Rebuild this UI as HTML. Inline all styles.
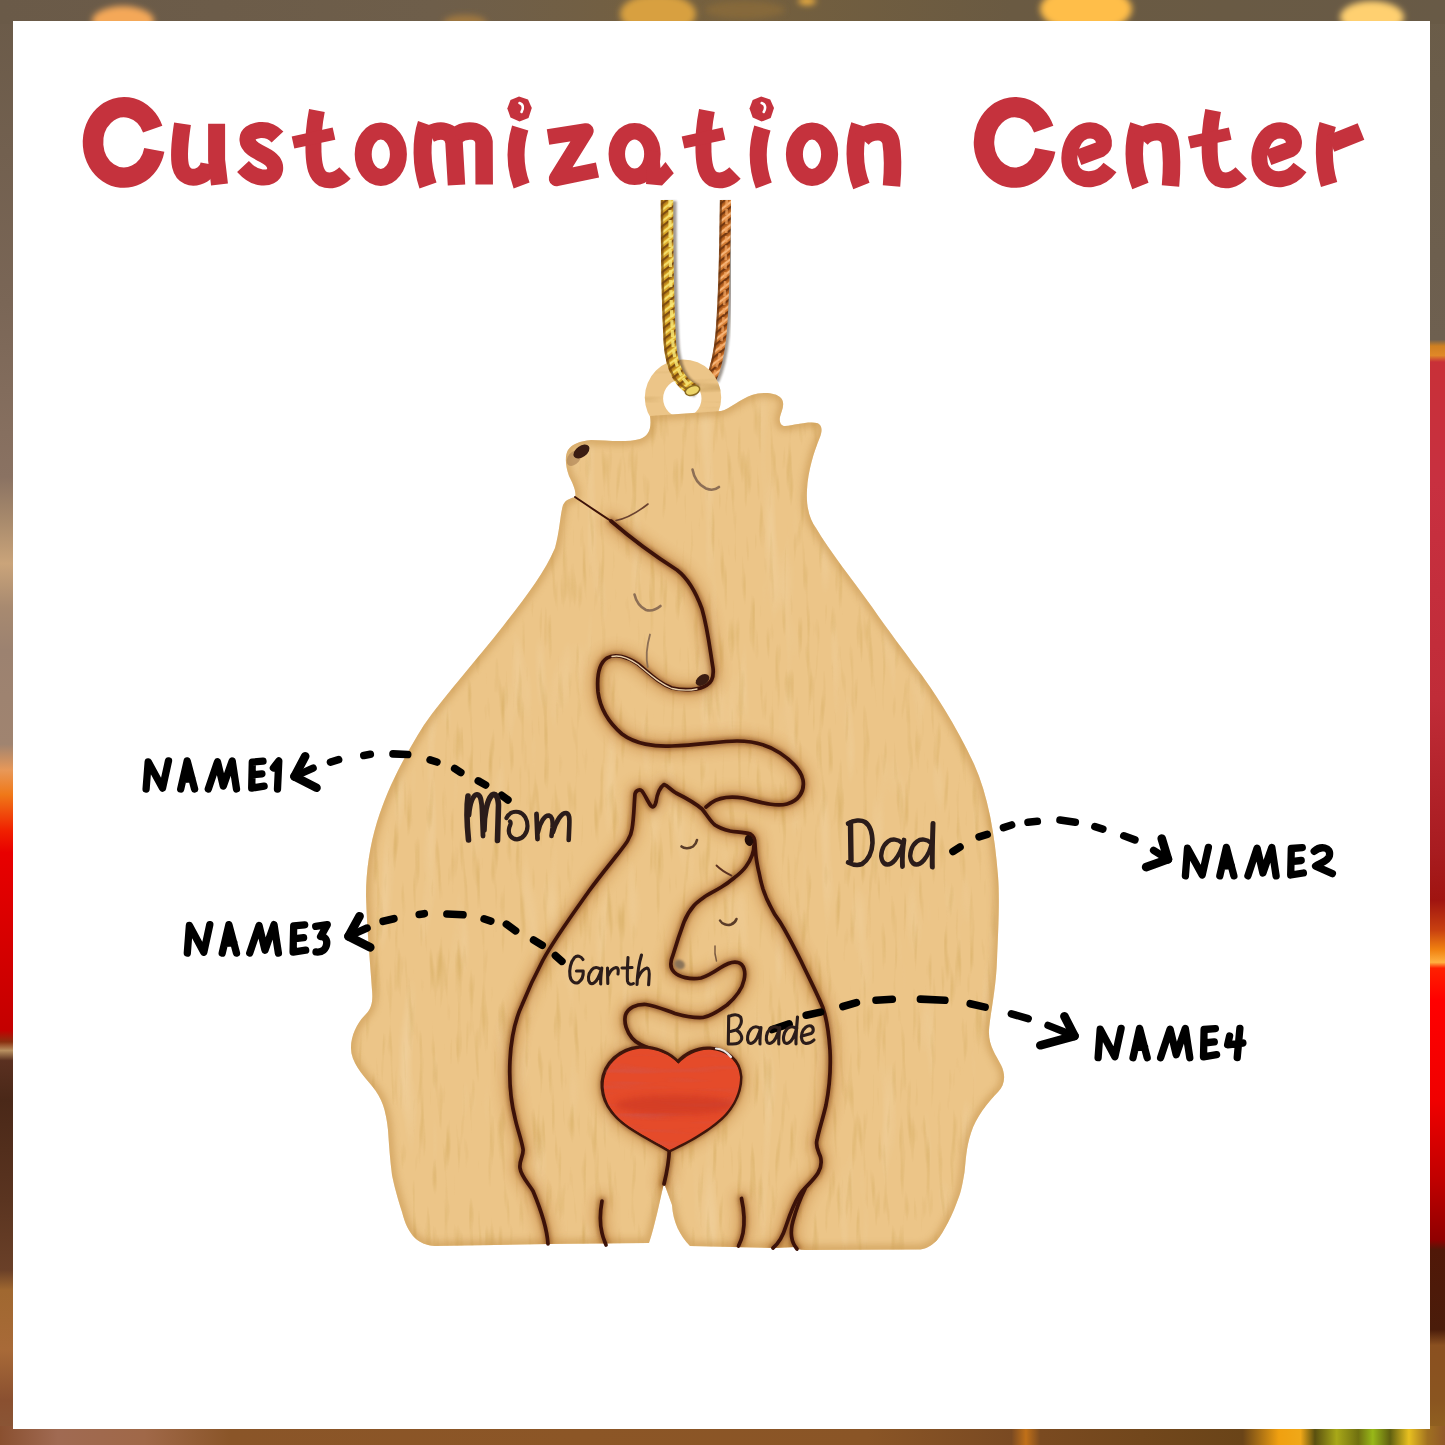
<!DOCTYPE html>
<html><head><meta charset="utf-8"><title>Customization Center</title>
<style>
html,body{margin:0;padding:0;background:#fff;font-family:"Liberation Sans",sans-serif;}
body{width:1445px;height:1445px;overflow:hidden;position:relative;}
svg{position:absolute;left:0;top:0;display:block;}
</style></head><body>
<svg width="1445" height="1445" viewBox="0 0 1445 1445">
<defs>
<linearGradient id="gLeft" x1="0" y1="0" x2="0" y2="1445" gradientUnits="userSpaceOnUse">
<stop offset="0" stop-color="#6a5a48"/><stop offset="0.21" stop-color="#7a6656"/><stop offset="0.33" stop-color="#8a7262"/>
<stop offset="0.36" stop-color="#a88a6c"/><stop offset="0.39" stop-color="#caa47a"/><stop offset="0.42" stop-color="#a88a70"/>
<stop offset="0.45" stop-color="#9c8270"/><stop offset="0.515" stop-color="#a08470"/><stop offset="0.533" stop-color="#e89858"/>
<stop offset="0.55" stop-color="#f07818"/><stop offset="0.575" stop-color="#f02000"/><stop offset="0.59" stop-color="#e80000"/>
<stop offset="0.713" stop-color="#c40000"/><stop offset="0.721" stop-color="#8a3010"/><stop offset="0.727" stop-color="#b89060"/>
<stop offset="0.734" stop-color="#5a3020"/><stop offset="0.761" stop-color="#4a2818"/><stop offset="0.83" stop-color="#5a3420"/>
<stop offset="0.879" stop-color="#6a4028"/><stop offset="0.893" stop-color="#a06830"/><stop offset="0.934" stop-color="#a86a38"/>
<stop offset="0.969" stop-color="#8a5030"/><stop offset="1" stop-color="#8a5838"/>
</linearGradient>
<linearGradient id="gRight" x1="0" y1="0" x2="0" y2="1445" gradientUnits="userSpaceOnUse">
<stop offset="0" stop-color="#6a5c48"/><stop offset="0.235" stop-color="#6e6050"/><stop offset="0.2395" stop-color="#d08020"/>
<stop offset="0.246" stop-color="#e08828"/><stop offset="0.2505" stop-color="#c83038"/><stop offset="0.333" stop-color="#c83040"/>
<stop offset="0.484" stop-color="#c02c38"/><stop offset="0.588" stop-color="#a81c20"/><stop offset="0.623" stop-color="#a01410"/>
<stop offset="0.6436" stop-color="#c84010"/><stop offset="0.657" stop-color="#f08010"/><stop offset="0.666" stop-color="#ffb040"/>
<stop offset="0.67" stop-color="#ff2000"/><stop offset="0.692" stop-color="#ff0000"/><stop offset="0.761" stop-color="#f00000"/>
<stop offset="0.8166" stop-color="#c00000"/><stop offset="0.858" stop-color="#900000"/><stop offset="0.865" stop-color="#501808"/>
<stop offset="0.92" stop-color="#4a1c0a"/><stop offset="0.931" stop-color="#8a5020"/><stop offset="0.969" stop-color="#8a5520"/>
<stop offset="0.989" stop-color="#906020"/><stop offset="1" stop-color="#a08010"/>
</linearGradient>
<linearGradient id="gTop" x1="0" y1="0" x2="1445" y2="0" gradientUnits="userSpaceOnUse">
<stop offset="0" stop-color="#6a5a48"/><stop offset="0.3" stop-color="#6e5e4a"/><stop offset="0.5" stop-color="#75603e"/><stop offset="0.7" stop-color="#6a5a42"/><stop offset="1" stop-color="#685a46"/>
</linearGradient>
<linearGradient id="gBot" x1="0" y1="0" x2="1445" y2="0" gradientUnits="userSpaceOnUse">
<stop offset="0" stop-color="#8a5030"/><stop offset="0.04" stop-color="#a06a52"/><stop offset="0.1" stop-color="#a06848"/><stop offset="0.16" stop-color="#8a5528"/>
<stop offset="0.4" stop-color="#8c5626"/><stop offset="0.6" stop-color="#8a5526"/><stop offset="0.7" stop-color="#7a4a22"/><stop offset="0.71" stop-color="#c07018"/><stop offset="0.72" stop-color="#7a4a20"/>
<stop offset="0.86" stop-color="#6a4418"/><stop offset="0.885" stop-color="#f0a010"/><stop offset="0.9" stop-color="#f0a818"/><stop offset="0.91" stop-color="#5a5010"/><stop offset="0.925" stop-color="#a8a818"/>
<stop offset="0.94" stop-color="#707010"/><stop offset="0.95" stop-color="#98b818"/><stop offset="0.962" stop-color="#606010"/><stop offset="0.975" stop-color="#e8c020"/><stop offset="0.988" stop-color="#a07020"/><stop offset="1" stop-color="#905828"/>
</linearGradient>
<filter id="blur6" x="-50%" y="-50%" width="200%" height="200%"><feGaussianBlur stdDeviation="6"/></filter>
<filter id="blur3" x="-50%" y="-50%" width="200%" height="200%"><feGaussianBlur stdDeviation="3"/></filter>
<filter id="blur2" x="-20%" y="-20%" width="140%" height="140%"><feGaussianBlur stdDeviation="2.2"/></filter>
<filter id="blur1" x="-20%" y="-20%" width="140%" height="140%"><feGaussianBlur stdDeviation="1"/></filter>
<filter id="grainV" x="0" y="0" width="100%" height="100%">
<feTurbulence type="fractalNoise" baseFrequency="0.16 0.018" numOctaves="2" seed="7" result="n"/>
<feColorMatrix in="n" type="matrix" values="0 0 0 0 0.60  0 0 0 0 0.36  0 0 0 0 0.08  -3.2 0 0 0 1.38" result="c"/>
<feComposite in="c" in2="SourceGraphic" operator="in"/>
</filter>
<filter id="grainL" x="0" y="0" width="100%" height="100%">
<feTurbulence type="fractalNoise" baseFrequency="0.05 0.008" numOctaves="2" seed="23" result="n"/>
<feColorMatrix in="n" type="matrix" values="0 0 0 0 1  0 0 0 0 0.92  0 0 0 0 0.75  2.6 0 0 0 -1.5" result="c"/>
<feComposite in="c" in2="SourceGraphic" operator="in"/>
</filter>
<filter id="grainH" x="0" y="0" width="100%" height="100%">
<feTurbulence type="fractalNoise" baseFrequency="0.012 0.12" numOctaves="2" seed="3" result="n"/>
<feColorMatrix in="n" type="matrix" values="0 0 0 0 0.55  0 0 0 0 0.33  0 0 0 0 0.10  -2.6 0 0 0 1.2" result="c"/>
<feComposite in="c" in2="SourceGraphic" operator="in"/>
</filter>
<filter id="grainHeart" x="0" y="0" width="100%" height="100%">
<feTurbulence type="fractalNoise" baseFrequency="0.01 0.12" numOctaves="2" seed="11" result="n"/>
<feColorMatrix in="n" type="matrix" values="0 0 0 0 0.6  0 0 0 0 0.1  0 0 0 0 0.1  -3 0 0 0 1.45" result="c"/>
<feComposite in="c" in2="SourceGraphic" operator="in"/>
</filter>
<pattern id="rope1" patternUnits="userSpaceOnUse" width="9" height="9" patternTransform="rotate(-38)">
<rect width="9" height="9" fill="#d6a224"/><rect y="0" width="9" height="2.4" fill="#7e4c10"/><rect y="2.4" width="9" height="1.2" fill="#b07818"/><rect y="5" width="9" height="2.2" fill="#f4dc68"/>
</pattern>
<pattern id="rope2" patternUnits="userSpaceOnUse" width="9" height="9" patternTransform="rotate(-38)">
<rect width="9" height="9" fill="#cf762c"/><rect y="0" width="9" height="2.4" fill="#743810"/><rect y="2.4" width="9" height="1.2" fill="#a85418"/><rect y="5" width="9" height="2.2" fill="#f6b478"/>
</pattern>
</defs>
<g id="bg">
<rect x="0" y="0" width="1445" height="1445" fill="#6a5a48"/>
<rect x="0" y="0" width="722" height="1445" fill="url(#gLeft)"/>
<rect x="722" y="0" width="723" height="1445" fill="url(#gRight)"/>
<rect x="0" y="0" width="1445" height="24" fill="url(#gTop)"/>
<g filter="url(#blur3)">
<ellipse cx="123" cy="21" rx="31" ry="15" fill="#f4a858"/>
<ellipse cx="465" cy="23" rx="22" ry="8" fill="#a07840"/>
<ellipse cx="658" cy="14" rx="38" ry="20" fill="#d8a040"/>
<ellipse cx="745" cy="10" rx="40" ry="9" fill="#86693a"/>
<ellipse cx="807" cy="1" rx="9" ry="4" fill="#f0b040"/>
<ellipse cx="1086" cy="9" rx="46" ry="23" fill="#ffbe48"/>
<ellipse cx="1372" cy="17" rx="32" ry="16" fill="#ffd070"/>
</g>
<rect x="0" y="1426" width="1445" height="19" fill="url(#gBot)"/>
</g>
<rect x="13" y="21" width="1417" height="1408" fill="#ffffff"/>
<g id="title" stroke="#c5323d" fill="none" stroke-linecap="butt">
<path d="M152.7,129.1 A31,35.2 0 1 0 154.3,149.8" stroke-width="20.5" fill="none"/>
<path d="M182.5,123.7 C180,140 178.5,157 180.5,166 C183,177 192,178.5 198,176.5 C204,174.5 208,170 209,164" stroke-width="17" fill="none"/><path d="M216.6,123.7 L216.6,160 L219.5,184.5" stroke-width="17" fill="none"/>
<path d="M277.5,137 C272,131 266,129.5 260,130 C252,131 247,134 247.5,140 C248,147 256,151 264,155 C272,159 276,164 275,170 C274,176 268,178 262,177.5 C254,177 248,172 243,166.5" stroke-width="16" fill="none"/>
<path d="M316.9,110.5 C314,125 313,140 313.5,152 C314,166 316,175 323,179 C330,182 338,180 345,173" stroke-width="16" fill="none"/><path d="M293,142.5 L334,133.6" stroke-width="12.5" fill="none"/>
<ellipse cx="380.8" cy="154.3" rx="17.6" ry="23.2" stroke-width="17" fill="none"/>
<path d="M426.5,124 C421,140 421,165 428,185.5" stroke-width="18" fill="none"/><path d="M430,134 C440,129 452,130 454,142 L456.5,185" stroke-width="17.5" fill="none"/><path d="M456,136 C464,129 482,128 484,142 L484.2,184.5" stroke-width="17.5" fill="none"/>
<path d="M520.2,128 C515,145 514,165 521.6,185.5" stroke-width="17" fill="none"/><polygon points="519,96.5 528,99.5 531.8,108 528.5,118 519.5,121.5 510.5,117.5 507.3,108.5 510.5,100" stroke="none" fill="#c5323d"/><path d="M519.5,103 C523,104 524,108 521.5,112" stroke="#fff" stroke-width="2.6" fill="none" stroke-linecap="round"/>
<path d="M548,137 L586,131 L556.5,178.5 L597.5,170" stroke-width="15.5" fill="none" stroke-linejoin="round"/>
<ellipse cx="634.6" cy="154" rx="17.8" ry="22.8" stroke-width="16.5" fill="none"/><polygon points="648,150 659,152 660.5,168 665.5,162 673.8,173.2 662,185.5 646,184" stroke="none" fill="#c5323d"/>
<g transform="translate(390,0)"><path d="M316.9,110.5 C314,125 313,140 313.5,152 C314,166 316,175 323,179 C330,182 338,180 345,173" stroke-width="16" fill="none"/><path d="M293,142.5 L334,133.6" stroke-width="12.5" fill="none"/></g>
<g transform="translate(242.2,0)"><path d="M520.2,128 C515,145 514,165 521.6,185.5" stroke-width="17" fill="none"/><polygon points="519,96.5 528,99.5 531.8,108 528.5,118 519.5,121.5 510.5,117.5 507.3,108.5 510.5,100" stroke="none" fill="#c5323d"/><path d="M519.5,103 C523,104 524,108 521.5,112" stroke="#fff" stroke-width="2.6" fill="none" stroke-linecap="round"/></g>
<g transform="translate(431.2,0)"><ellipse cx="380.8" cy="154.3" rx="17.6" ry="23.2" stroke-width="17" fill="none"/></g>
<path d="M859.6,125 C854,142 853,165 861.4,186" stroke-width="17.5" fill="none"/><path d="M862,139 C870,129.5 888,128 891,142 C893,155 893,170 891.5,186" stroke-width="17.5" fill="none"/>
<g transform="translate(891,0)"><path d="M152.7,129.1 A31,35.2 0 1 0 154.3,149.8" stroke-width="20.5" fill="none"/></g>
<path d="M1078.5,157.5 L1100,149.5 C1106,146 1105,137 1098,132.5 C1090,128 1080,131 1075,139 C1069,148 1068,160 1071,168 C1075,177 1084,180 1092,179 C1100,178 1106,173 1110,167.5" stroke-width="16" fill="none" stroke-linejoin="round"/>
<g transform="translate(279,0)"><path d="M859.6,125 C854,142 853,165 861.4,186" stroke-width="17.5" fill="none"/><path d="M862,139 C870,129.5 888,128 891,142 C893,155 893,170 891.5,186" stroke-width="17.5" fill="none"/></g>
<g transform="translate(896.2,0)"><path d="M316.9,110.5 C314,125 313,140 313.5,152 C314,166 316,175 323,179 C330,182 338,180 345,173" stroke-width="16" fill="none"/><path d="M293,142.5 L334,133.6" stroke-width="12.5" fill="none"/></g>
<g transform="translate(190,0)"><path d="M1078.5,157.5 L1100,149.5 C1106,146 1105,137 1098,132.5 C1090,128 1080,131 1075,139 C1069,148 1068,160 1071,168 C1075,177 1084,180 1092,179 C1100,178 1106,173 1110,167.5" stroke-width="16" fill="none" stroke-linejoin="round"/></g>
<path d="M1327.7,124.5 C1323,140 1323,165 1329.1,184.5" stroke-width="17" fill="none"/><path d="M1331,143.5 L1361,131.5" stroke-width="18" fill="none"/>
</g>
<g id="cord2" fill="none" stroke-linecap="butt">
<path d="M725.5,200 C725,250 724,300 721,335 C719,355 716,368 711,379" stroke="#2a1a08" stroke-width="12" opacity="0.45" transform="translate(2.5,1)" filter="url(#blur1)"/>
<path d="M725.5,200 C725,250 724,300 721,335 C719,355 716,368 711,379" stroke="url(#rope2)" stroke-width="11"/>
<path d="M725.5,200 C725,250 724,300 721,335 C719,355 716,368 711,379" stroke="#6a3410" stroke-width="2.2" opacity="0.7" transform="translate(-4.6,0)"/>
<path d="M725.5,200 C725,250 724,300 721,335 C719,355 716,368 711,379" stroke="#f2a460" stroke-width="2.6" opacity="0.75" stroke-dasharray="6 3" transform="translate(1.2,0)"/>
</g>
<g id="ring">
<path fill-rule="evenodd" fill="#ecc588" d="M644.8,397.6 a38.2,38.2 0 1 0 76.4,0 a38.2,38.2 0 1 0 -76.4,0 Z M663.1,398.5 a19.2,19.2 0 1 0 38.4,0 a19.2,19.2 0 1 0 -38.4,0 Z"/>
<path fill-rule="evenodd" fill="#ecc588" filter="url(#grainH)" opacity="0.7" d="M644.8,397.6 a38.2,38.2 0 1 0 76.4,0 a38.2,38.2 0 1 0 -76.4,0 Z M663.1,398.5 a19.2,19.2 0 1 0 38.4,0 a19.2,19.2 0 1 0 -38.4,0 Z"/>
</g>
<g id="cord1" fill="none" stroke-linecap="butt">
<path d="M667,200 C667,260 668,310 670,345 C672,368 680,384 694,390" stroke="#2a1a08" stroke-width="13" opacity="0.45" transform="translate(3,1)" filter="url(#blur1)"/>
<path d="M667,200 C667,260 668,310 670,345 C672,368 680,384 694,390" stroke="url(#rope1)" stroke-width="12.5"/>
<path d="M667,200 C667,260 668,310 670,345 C672,368 680,384 694,390" stroke="#7a4a10" stroke-width="2.4" opacity="0.7" transform="translate(-5,0)"/>
<path d="M667,200 C667,260 668,310 670,345 C672,368 680,384 694,390" stroke="#f8e878" stroke-width="3.2" opacity="0.85" stroke-dasharray="7 3" transform="translate(3,0)"/>
<ellipse cx="692.5" cy="390.5" rx="7.5" ry="4.6" fill="#ecd468" stroke="#8a6a20" stroke-width="1.5" transform="rotate(-20 692.5 390.5)"/>
</g>
<clipPath id="silclip"><path d="M650,416 L721,411
C730,409 740,399 752,395 C762,392 775,392 781,398 C786,404 781,412 780,417 C779,422 781,426 785,426
C795,425 808,421 817,423 C823,425 822,432 820,437 C814,452 808,470 807,490 C806,508 810,520 816,528
C830,552 850,576 872,607 C890,633 905,652 914,665 C935,692 955,724 974,764 C988,795 995,835 998,876
C1000,900 998,935 997,960 C996,990 990,1015 989,1030 C988,1045 996,1055 1001,1065 C1006,1075 1005,1085 998,1092
C988,1102 976,1117 971,1133 C966,1148 966,1160 964.5,1172 C962,1188 960,1195 957,1202 C953,1213 949,1221 945,1228 C941,1235 938,1240 934,1243 C929,1247 925,1249.5 918,1249.5
L805,1250 C800,1250 797,1249 795,1247 L775,1248 L690,1246
C680,1236 673,1222 672,1205 L664,1183 C660,1200 655,1225 649,1243
L548,1244 L435,1246
C427,1245.5 420,1243 415,1238 C409,1232 405,1224 402,1212 C397,1196 394,1185 392,1175 C390,1160 389,1145 388,1130 C386,1110 382,1098 372,1086
C362,1074 351,1062 351,1048 C351,1034 358,1022 366,1014 C372,1008 373,1000 372,990
C370,960 367,930 366,896 C366,870 370,845 377,822 C387,790 402,760 424,725
C445,695 475,662 504,625 C525,598 545,572 555,548 C560,530 560,515 563,505
C566,499 572,498 575,497 C577,492 572,482 569,476 C565,465 565,455 568,450
C572,444 580,441 591,440 C605,440 625,443 640,439 C648,436 652,430 650,416 Z"/></clipPath>
<g id="bearbody">
<path fill="#ecc588" d="M650,416 L721,411
C730,409 740,399 752,395 C762,392 775,392 781,398 C786,404 781,412 780,417 C779,422 781,426 785,426
C795,425 808,421 817,423 C823,425 822,432 820,437 C814,452 808,470 807,490 C806,508 810,520 816,528
C830,552 850,576 872,607 C890,633 905,652 914,665 C935,692 955,724 974,764 C988,795 995,835 998,876
C1000,900 998,935 997,960 C996,990 990,1015 989,1030 C988,1045 996,1055 1001,1065 C1006,1075 1005,1085 998,1092
C988,1102 976,1117 971,1133 C966,1148 966,1160 964.5,1172 C962,1188 960,1195 957,1202 C953,1213 949,1221 945,1228 C941,1235 938,1240 934,1243 C929,1247 925,1249.5 918,1249.5
L805,1250 C800,1250 797,1249 795,1247 L775,1248 L690,1246
C680,1236 673,1222 672,1205 L664,1183 C660,1200 655,1225 649,1243
L548,1244 L435,1246
C427,1245.5 420,1243 415,1238 C409,1232 405,1224 402,1212 C397,1196 394,1185 392,1175 C390,1160 389,1145 388,1130 C386,1110 382,1098 372,1086
C362,1074 351,1062 351,1048 C351,1034 358,1022 366,1014 C372,1008 373,1000 372,990
C370,960 367,930 366,896 C366,870 370,845 377,822 C387,790 402,760 424,725
C445,695 475,662 504,625 C525,598 545,572 555,548 C560,530 560,515 563,505
C566,499 572,498 575,497 C577,492 572,482 569,476 C565,465 565,455 568,450
C572,444 580,441 591,440 C605,440 625,443 640,439 C648,436 652,430 650,416 Z"/>
<g clip-path="url(#silclip)">
<rect x="340" y="380" width="680" height="880" fill="#000" filter="url(#grainV)" opacity="0.42"/>
<rect x="340" y="380" width="680" height="880" fill="#000" filter="url(#grainL)" opacity="0.22"/>
<path d="M650,416 L721,411
C730,409 740,399 752,395 C762,392 775,392 781,398 C786,404 781,412 780,417 C779,422 781,426 785,426
C795,425 808,421 817,423 C823,425 822,432 820,437 C814,452 808,470 807,490 C806,508 810,520 816,528
C830,552 850,576 872,607 C890,633 905,652 914,665 C935,692 955,724 974,764 C988,795 995,835 998,876
C1000,900 998,935 997,960 C996,990 990,1015 989,1030 C988,1045 996,1055 1001,1065 C1006,1075 1005,1085 998,1092
C988,1102 976,1117 971,1133 C966,1148 966,1160 964.5,1172 C962,1188 960,1195 957,1202 C953,1213 949,1221 945,1228 C941,1235 938,1240 934,1243 C929,1247 925,1249.5 918,1249.5
L805,1250 C800,1250 797,1249 795,1247 L775,1248 L690,1246
C680,1236 673,1222 672,1205 L664,1183 C660,1200 655,1225 649,1243
L548,1244 L435,1246
C427,1245.5 420,1243 415,1238 C409,1232 405,1224 402,1212 C397,1196 394,1185 392,1175 C390,1160 389,1145 388,1130 C386,1110 382,1098 372,1086
C362,1074 351,1062 351,1048 C351,1034 358,1022 366,1014 C372,1008 373,1000 372,990
C370,960 367,930 366,896 C366,870 370,845 377,822 C387,790 402,760 424,725
C445,695 475,662 504,625 C525,598 545,572 555,548 C560,530 560,515 563,505
C566,499 572,498 575,497 C577,492 572,482 569,476 C565,465 565,455 568,450
C572,444 580,441 591,440 C605,440 625,443 640,439 C648,436 652,430 650,416 Z" fill="none" stroke="#c89650" stroke-width="10" opacity="0.55" filter="url(#blur3)"/>
<g fill="none" stroke="#b0661e" stroke-width="17" opacity="0.33" filter="url(#blur6)" stroke-linecap="round">
<path d="M611,521 C633,540 655,556 677,570 C690,580 698,598 702,609
C708,630 710,650 713,668 C714,677 712,682 707,685 C700,690 685,691 672,688 C660,684 650,674 638,664
C628,657 615,653 607,658 C598,664 597,680 598,692 C600,708 608,722 622,734 C635,744 655,747 672,746
C700,745 720,741 737,741 C752,741 768,745 780,753 C792,761 801,770 803,780 C805,792 798,801 787,804
C775,807 760,802 743,798 C730,796 718,798 711,803 L706,807"/>
<path d="M548,1244 C547,1228 541,1210 533,1191 C528,1183 521,1176 520,1168 C519,1160 524,1155 523,1149
C521,1138 517,1128 515,1118 C510,1098 509,1080 510,1060 C511,1040 515,1020 522,1005
C528,990 535,975 543,960 C555,938 572,915 589,891 C600,876 610,864 617,855 C625,845 631,838 632,829
C634,818 634,805 635,794 C636,790 640,789 642,791 C645,795 648,802 651,806 C653,808 655,806 656,802
C657,795 659,788 664,784.5 C668,786 671,790 676,793 C684,797 695,803 702,809
C707,815 710,821 715,825 C720,828.5 726,830 730,831 C736,832 744,832 750.5,834 C754,836 755,840 755,844
C755.5,852 756,857 756.5,860 C757.5,866 758,869 759,872.5 C760,878 761.5,884 763,889 C765,895 767,900 770,905.5
C773,912 776,917 780,922 C785,930 793,945 801,961 C808,976 818,995 823,1008 C827,1020 829,1035 830,1050
C831,1070 829,1090 826,1105 C823,1118 819,1130 817,1140 C815,1147 819,1152 820.5,1157
C822,1163 821,1168 818,1173 C813,1181 806,1186 800,1194 C794,1203 790,1214 786,1226 C783,1236 779,1243 773,1248"/>
<path d="M754,845 C754,852 750,861 746,866.5 C742,872 738,875 734,878 C728,883 724,885.5 721.5,887
C715,891 709,894 705,896.5 C700,900 697,902 694,905.5 C690,910 686,917 684,922
C681,930 676,945 673,955 C670,962 670,968 674,972 C679,977 690,980 701,978
C708,976 714,972 720,968 C726,964 733,961 738,962.5 C744,964 746,972 744,980
C742,990 735,998 727,1005 C720,1010 712,1016 703,1017.5 C694,1018 685,1016.5 675,1013.5
C665,1010 655,1005.5 646,1004.5 C636,1004 628,1008 625.5,1015 C623.5,1023 627,1032 632,1038
C637,1044 645,1047 653,1049.5 C662,1052 671,1058 677,1064.5"/>
<path d="M805,1189 C800,1199 796,1210 793,1221 C790,1232 791,1242 797,1249"/>
<path d="M602,1201 C600,1212 600,1225 602,1233 C603,1238 605,1242 606,1245"/>
<path d="M741.5,1198.5 C744,1210 745,1222 743,1233 C742,1238 740,1243 738.5,1246"/>
<path d="M669.4,1149 C669,1160 667,1172 664,1184"/>
<path d="M677.7,1063 C670,1054 655,1047 639,1048 C620,1050 605,1063 603,1082 C602,1100 612,1115 630,1127
C645,1137 660,1144 669.4,1150 C680,1145 700,1135 715,1123 C730,1112 740,1095 740,1077
C739,1060 725,1050 710,1049 C697,1048 685,1055 677.7,1063 Z"/>
</g>
<g fill="none" stroke="#7a3c14" stroke-width="7" opacity="0.6" filter="url(#blur2)" stroke-linecap="round">
<path d="M611,521 C633,540 655,556 677,570 C690,580 698,598 702,609
C708,630 710,650 713,668 C714,677 712,682 707,685 C700,690 685,691 672,688 C660,684 650,674 638,664
C628,657 615,653 607,658 C598,664 597,680 598,692 C600,708 608,722 622,734 C635,744 655,747 672,746
C700,745 720,741 737,741 C752,741 768,745 780,753 C792,761 801,770 803,780 C805,792 798,801 787,804
C775,807 760,802 743,798 C730,796 718,798 711,803 L706,807"/>
<path d="M548,1244 C547,1228 541,1210 533,1191 C528,1183 521,1176 520,1168 C519,1160 524,1155 523,1149
C521,1138 517,1128 515,1118 C510,1098 509,1080 510,1060 C511,1040 515,1020 522,1005
C528,990 535,975 543,960 C555,938 572,915 589,891 C600,876 610,864 617,855 C625,845 631,838 632,829
C634,818 634,805 635,794 C636,790 640,789 642,791 C645,795 648,802 651,806 C653,808 655,806 656,802
C657,795 659,788 664,784.5 C668,786 671,790 676,793 C684,797 695,803 702,809
C707,815 710,821 715,825 C720,828.5 726,830 730,831 C736,832 744,832 750.5,834 C754,836 755,840 755,844
C755.5,852 756,857 756.5,860 C757.5,866 758,869 759,872.5 C760,878 761.5,884 763,889 C765,895 767,900 770,905.5
C773,912 776,917 780,922 C785,930 793,945 801,961 C808,976 818,995 823,1008 C827,1020 829,1035 830,1050
C831,1070 829,1090 826,1105 C823,1118 819,1130 817,1140 C815,1147 819,1152 820.5,1157
C822,1163 821,1168 818,1173 C813,1181 806,1186 800,1194 C794,1203 790,1214 786,1226 C783,1236 779,1243 773,1248"/>
<path d="M754,845 C754,852 750,861 746,866.5 C742,872 738,875 734,878 C728,883 724,885.5 721.5,887
C715,891 709,894 705,896.5 C700,900 697,902 694,905.5 C690,910 686,917 684,922
C681,930 676,945 673,955 C670,962 670,968 674,972 C679,977 690,980 701,978
C708,976 714,972 720,968 C726,964 733,961 738,962.5 C744,964 746,972 744,980
C742,990 735,998 727,1005 C720,1010 712,1016 703,1017.5 C694,1018 685,1016.5 675,1013.5
C665,1010 655,1005.5 646,1004.5 C636,1004 628,1008 625.5,1015 C623.5,1023 627,1032 632,1038
C637,1044 645,1047 653,1049.5 C662,1052 671,1058 677,1064.5"/>
<path d="M805,1189 C800,1199 796,1210 793,1221 C790,1232 791,1242 797,1249"/>
<path d="M602,1201 C600,1212 600,1225 602,1233 C603,1238 605,1242 606,1245"/>
<path d="M741.5,1198.5 C744,1210 745,1222 743,1233 C742,1238 740,1243 738.5,1246"/>
<path d="M669.4,1149 C669,1160 667,1172 664,1184"/>
<path d="M677.7,1063 C670,1054 655,1047 639,1048 C620,1050 605,1063 603,1082 C602,1100 612,1115 630,1127
C645,1137 660,1144 669.4,1150 C680,1145 700,1135 715,1123 C730,1112 740,1095 740,1077
C739,1060 725,1050 710,1049 C697,1048 685,1055 677.7,1063 Z"/>
</g>
</g>
<g fill="none" stroke="#3c1209" stroke-width="3.7" stroke-linecap="round" stroke-linejoin="round">
<path d="M611,521 C633,540 655,556 677,570 C690,580 698,598 702,609
C708,630 710,650 713,668 C714,677 712,682 707,685 C700,690 685,691 672,688 C660,684 650,674 638,664
C628,657 615,653 607,658 C598,664 597,680 598,692 C600,708 608,722 622,734 C635,744 655,747 672,746
C700,745 720,741 737,741 C752,741 768,745 780,753 C792,761 801,770 803,780 C805,792 798,801 787,804
C775,807 760,802 743,798 C730,796 718,798 711,803 L706,807"/>
<path d="M548,1244 C547,1228 541,1210 533,1191 C528,1183 521,1176 520,1168 C519,1160 524,1155 523,1149
C521,1138 517,1128 515,1118 C510,1098 509,1080 510,1060 C511,1040 515,1020 522,1005
C528,990 535,975 543,960 C555,938 572,915 589,891 C600,876 610,864 617,855 C625,845 631,838 632,829
C634,818 634,805 635,794 C636,790 640,789 642,791 C645,795 648,802 651,806 C653,808 655,806 656,802
C657,795 659,788 664,784.5 C668,786 671,790 676,793 C684,797 695,803 702,809
C707,815 710,821 715,825 C720,828.5 726,830 730,831 C736,832 744,832 750.5,834 C754,836 755,840 755,844
C755.5,852 756,857 756.5,860 C757.5,866 758,869 759,872.5 C760,878 761.5,884 763,889 C765,895 767,900 770,905.5
C773,912 776,917 780,922 C785,930 793,945 801,961 C808,976 818,995 823,1008 C827,1020 829,1035 830,1050
C831,1070 829,1090 826,1105 C823,1118 819,1130 817,1140 C815,1147 819,1152 820.5,1157
C822,1163 821,1168 818,1173 C813,1181 806,1186 800,1194 C794,1203 790,1214 786,1226 C783,1236 779,1243 773,1248"/>
<path d="M754,845 C754,852 750,861 746,866.5 C742,872 738,875 734,878 C728,883 724,885.5 721.5,887
C715,891 709,894 705,896.5 C700,900 697,902 694,905.5 C690,910 686,917 684,922
C681,930 676,945 673,955 C670,962 670,968 674,972 C679,977 690,980 701,978
C708,976 714,972 720,968 C726,964 733,961 738,962.5 C744,964 746,972 744,980
C742,990 735,998 727,1005 C720,1010 712,1016 703,1017.5 C694,1018 685,1016.5 675,1013.5
C665,1010 655,1005.5 646,1004.5 C636,1004 628,1008 625.5,1015 C623.5,1023 627,1032 632,1038
C637,1044 645,1047 653,1049.5 C662,1052 671,1058 677,1064.5"/>
<path d="M805,1189 C800,1199 796,1210 793,1221 C790,1232 791,1242 797,1249"/>
<path d="M602,1201 C600,1212 600,1225 602,1233 C603,1238 605,1242 606,1245"/>
<path d="M741.5,1198.5 C744,1210 745,1222 743,1233 C742,1238 740,1243 738.5,1246"/>
<path d="M669.4,1149 C669,1160 667,1172 664,1184"/>
<path d="M575,497 C590,507 600,514 611,521 C620,529 630,537 640,545" stroke-width="2"/>
<path d="M612,656.5 C620,654.5 630,659 638,664.5 C650,674.5 660,684 672,688.5 C680,690.5 690,690.5 697,689" stroke="#fbe6bd" stroke-width="1.3" opacity="0.9"/>
</g>
<path d="M677.7,1063 C670,1054 655,1047 639,1048 C620,1050 605,1063 603,1082 C602,1100 612,1115 630,1127
C645,1137 660,1144 669.4,1150 C680,1145 700,1135 715,1123 C730,1112 740,1095 740,1077
C739,1060 725,1050 710,1049 C697,1048 685,1055 677.7,1063 Z" fill="#40160b" stroke="#40160b" stroke-width="5"/>
<clipPath id="heartclip"><path d="M677.7,1063 C670,1054 655,1047 639,1048 C620,1050 605,1063 603,1082 C602,1100 612,1115 630,1127
C645,1137 660,1144 669.4,1150 C680,1145 700,1135 715,1123 C730,1112 740,1095 740,1077
C739,1060 725,1050 710,1049 C697,1048 685,1055 677.7,1063 Z"/></clipPath>
<g clip-path="url(#heartclip)">
<path d="M677.7,1063 C670,1054 655,1047 639,1048 C620,1050 605,1063 603,1082 C602,1100 612,1115 630,1127
C645,1137 660,1144 669.4,1150 C680,1145 700,1135 715,1123 C730,1112 740,1095 740,1077
C739,1060 725,1050 710,1049 C697,1048 685,1055 677.7,1063 Z" fill="#e54b2a" transform="translate(0.8,0.8)"/>
<rect x="600" y="1045" width="145" height="110" fill="#000" filter="url(#grainHeart)" opacity="0.55"/>
<ellipse cx="675" cy="1105" rx="60" ry="10" fill="#c83424" opacity="0.55" filter="url(#blur3)"/>
</g>
<path d="M716,1048.5 C722,1049 727,1052 731,1057" stroke="#fff" stroke-width="2.2" fill="none" stroke-linecap="round" opacity="0.9"/>
<g id="faces" fill="none" stroke-linecap="round">
<ellipse cx="574" cy="458" rx="9" ry="6" fill="#b08858" opacity="0.7" transform="rotate(-50 574 458)"/>
<ellipse cx="581.5" cy="451.5" rx="9" ry="5.6" fill="#3a1c12" transform="rotate(-35 581.5 451.5)"/>
<path d="M692.5,469.5 C694,478 699,485 706,488.5 C711,490.5 716,489.5 719,487" stroke="#8d6f55" stroke-width="2.6"/>
<path d="M616,520.5 C624,519 634,515 648,504" stroke="#6a4230" stroke-width="1.6"/>
<path d="M634.5,594.5 C636,601 640,607 646,610 C652,611.5 657,609 660.5,606" stroke="#8d6f55" stroke-width="2.6"/>
<path d="M650,634.5 C647,645 645.5,656 647.7,667" stroke="#8d6f55" stroke-width="1.8"/>
<ellipse cx="702.5" cy="680" rx="7.5" ry="5" fill="#3a1c12" transform="rotate(-35 702.5 680)"/>
<path d="M681.5,846.5 C684,848.5 689,849 693,846.5 C695,845 696.5,842.5 697,840" stroke="#5a3c28" stroke-width="2.6"/>
<ellipse cx="749" cy="840.5" rx="4.2" ry="5.6" fill="#220c08" transform="rotate(-15 749 840.5)"/>
<path d="M716.5,865.5 C721,870 726,873 731.5,875.6" stroke="#5a3020" stroke-width="1.8"/>
<path d="M720,920.5 C722,924 727,925.8 731,924.5 C734,923.3 735.8,921 736.5,919" stroke="#5a3c28" stroke-width="2.5"/>
<path d="M715,946 C714.5,951 715,956 716.5,961" stroke="#7a5a40" stroke-width="1.5"/>
<ellipse cx="679.5" cy="964.5" rx="5.5" ry="4.5" fill="#8a7358" transform="rotate(30 679.5 964.5)" filter="url(#blur1)"/>
</g>
</g>
<g fill="none" stroke="#000" stroke-width="7.3" stroke-linecap="round" stroke-linejoin="round"><path d="M146.1,789.0 L148.2,761.8 L162.5,788.1 L168.5,760.9"/><path d="M180.7,789.0 L187.2,760.9 L194.6,789.0 M183.5,779.4 L192.1,778.9"/><path d="M208.3,789.0 L217.5,761.8 L223.3,786.1 L232.2,760.9 L236.5,789.0"/><path d="M263.0,761.2 L252.3,762.1 L251.7,788.1 L264.1,786.1 M252.0,774.9 L261.9,773.8"/><path d="M273.4,767.9 L278.8,760.9 L277.5,789.0"/></g><g fill="none" stroke="#000" stroke-width="7.3" stroke-linecap="round" stroke-linejoin="round"><path d="M187.3,953.1 L189.4,925.5 L203.8,952.2 L209.8,924.6"/><path d="M222.2,953.1 L228.9,924.6 L236.5,953.1 M225.0,943.4 L234.0,942.8"/><path d="M249.7,953.1 L259.1,925.5 L265.0,950.2 L274.0,924.6 L278.4,953.1"/><path d="M304.7,924.9 L293.7,925.8 L293.1,952.2 L305.7,950.2 M293.4,938.9 L303.6,937.7"/><path d="M315.7,926.4 L327.3,924.6 L320.6,936.6 C329.8,935.4 329.0,953.6 316.0,951.9"/></g><g fill="none" stroke="#000" stroke-width="7.3" stroke-linecap="round" stroke-linejoin="round"><path d="M1185.4,875.9 L1187.5,848.2 L1202.2,875.0 L1208.4,847.4"/><path d="M1219.8,875.9 L1226.4,847.4 L1233.9,875.9 M1222.6,866.2 L1231.4,865.6"/><path d="M1247.9,875.9 L1257.1,848.2 L1262.9,873.0 L1271.8,847.4 L1276.1,875.9"/><path d="M1302.3,847.6 L1291.3,848.5 L1290.7,875.0 L1303.4,873.0 M1291.0,861.6 L1301.2,860.5"/><path d="M1314.2,851.3 C1320.5,845.6 1331.4,846.8 1329.4,855.9 C1328.0,861.6 1319.6,863.0 1315.6,866.2 L1332.4,873.6"/></g><g fill="none" stroke="#000" stroke-width="7.3" stroke-linecap="round" stroke-linejoin="round"><path d="M1098.1,1057.7 L1100.2,1029.2 L1114.9,1056.8 L1121.1,1028.4"/><path d="M1133.0,1057.7 L1139.6,1028.4 L1147.2,1057.7 M1135.8,1047.7 L1144.7,1047.1"/><path d="M1160.6,1057.7 L1170.1,1029.2 L1176.2,1054.7 L1185.3,1028.4 L1189.8,1057.7"/><path d="M1215.4,1028.6 L1204.1,1029.5 L1203.5,1056.8 L1216.6,1054.7 M1203.8,1043.0 L1214.3,1041.8"/><path d="M1229.6,1036.0 L1227.6,1044.8 L1242.9,1043.0 M1239.9,1028.4 L1237.2,1057.7"/></g><g fill="none" stroke="#000" stroke-width="7.6" stroke-linecap="round"><path d="M330.5,762.1 L338.6,759.7"/><path d="M363.8,755.5 L370.3,754.3"/><path d="M393.0,753.9 L407.7,754.5"/><path d="M430.1,759.8 L436.9,762.0"/><path d="M454.7,768.6 L460.8,772.4"/><path d="M478.3,780.9 L485.6,785.0"/><path d="M501.6,795.2 L507.9,799.9"/></g><g fill="none" stroke="#000" stroke-width="8.6" stroke-linecap="round" stroke-linejoin="round"><path d="M294.5,776.5 L305.2,756.3"/><path d="M294.5,776.5 L316.5,787.8"/><path d="M294.5,776.5 L313.1,768.1" stroke-width="7.3999999999999995"/></g><g fill="none" stroke="#000" stroke-width="7.6" stroke-linecap="round"><path d="M383.1,921.3 L393.9,918.7"/><path d="M419.2,914.5 L424.3,913.7"/><path d="M446.9,914.0 L463.0,914.8"/><path d="M484.1,918.9 L490.8,921.1"/><path d="M506.4,924.2 L515.6,930.8"/><path d="M533.6,939.9 L542.2,945.2"/><path d="M555.4,955.6 L561.9,961.3"/></g><g fill="none" stroke="#000" stroke-width="8.6" stroke-linecap="round" stroke-linejoin="round"><path d="M348.5,936.3 L359.6,916.2"/><path d="M348.5,936.3 L370.3,947.4"/><path d="M348.5,936.3 L367.1,928.0" stroke-width="7.3999999999999995"/></g><g fill="none" stroke="#000" stroke-width="7.6" stroke-linecap="round"><path d="M953.0,851.4 L960.0,847.1"/><path d="M979.1,836.9 L987.2,834.3"/><path d="M1003.5,827.7 L1011.6,825.0"/><path d="M1028.0,822.3 L1037.3,821.3"/><path d="M1060.0,820.0 L1075.3,822.2"/><path d="M1094.9,826.6 L1102.8,829.1"/><path d="M1123.8,835.8 L1134.9,839.9"/></g><g fill="none" stroke="#000" stroke-width="8.6" stroke-linecap="round" stroke-linejoin="round"><path d="M1168.0,859.3 L1161.7,838.6"/><path d="M1168.0,859.3 L1146.1,867.1"/><path d="M1168.0,859.3 L1153.6,850.3" stroke-width="7.3999999999999995"/></g><g fill="none" stroke="#000" stroke-width="7.6" stroke-linecap="round"><path d="M772.2,1029.5 L789.1,1023.9"/><path d="M806.2,1015.2 L820.6,1012.1"/><path d="M842.9,1006.5 L856.4,1002.6"/><path d="M876.0,1000.2 L892.3,999.2"/><path d="M920.4,999.1 L944.9,1000.3"/><path d="M970.2,1003.7 L985.1,1007.1"/><path d="M1011.4,1013.8 L1028.1,1018.7"/></g><g fill="none" stroke="#000" stroke-width="8.6" stroke-linecap="round" stroke-linejoin="round"><path d="M1074.5,1036.0 L1064.4,1016.3"/><path d="M1074.5,1036.0 L1040.3,1045.3"/><path d="M1074.5,1036.0 L1048.0,1025.4" stroke-width="7.3999999999999995"/></g><g fill="none" stroke="#2b1c1a" stroke-linecap="round" stroke-linejoin="round"><g stroke-width="5.6"><path d="M468,796 C466,810 467,825 468.5,840"/><path d="M469,815 C470,803 473,795 477,794.5 C481,795 481.5,800 482,810 L483,836" stroke-width="4.8"/><path d="M484,830 C484,815 487,800 492,795 C496,793 498,797 498.5,805 L497.5,840.5"/><path d="M506.5,818 C509,813 514,811 518.5,812 C524.5,813.5 527.5,820 527.5,826 C527.5,833 523,839 517,839.3 C511,839 508,834 509,829 C509.5,825 512,823 510,821.5" stroke-width="4.2"/><path d="M536.5,814 L537.5,839" stroke-width="4.8"/><path d="M538,832 C540,822 545,815 549,815.5 C553,816.5 553,822 552.5,828 L551.5,836" stroke-width="4.6"/><path d="M553,832 C556,822 561,813 566,813 C570,813.5 569.5,820 569.3,826 L568.7,840" stroke-width="4.6"/></g><g stroke-width="5.4"><path d="M850.5,823 L851,860"/><path d="M848,823.5 C854,820 861,819.5 865,822 C871,826 872.5,836 872.5,843 C872,853 868,860 862,864 C857,866 852,864.5 848,862.5" stroke-width="4.6"/><path d="M902,843 C898,839 892,838.5 888,841.5 C882,846 880,855 882,860 C884,866 890,866 895,860 C899,855 902,848 903.5,842" stroke-width="4.4"/><path d="M904,840 C902.5,850 902,858 902.5,866.5" stroke-width="4.8"/><path d="M931,843 C927,839 921,838.5 917,841.5 C911,846 909,855 911,860 C913,866 919,866 924,860 C928,855 931,848 932,842" stroke-width="4.4"/><path d="M933,823.5 C932.5,840 932,855 932.3,867" stroke-width="5"/></g><g stroke-width="3.1"><path d="M583,959.5 C581,956 577,955 574.5,957.5 C570.5,962 569,970 570,976 C571,982 575,984 578.5,982.5 C582,980 583.5,975 583.2,971 L576.5,971"/><path d="M601,970 C598,966.5 594,967 591.5,970 C588,974 587.5,980 590,983 C592.5,985 596,982 598,978 C600,974 601,971 601.5,968.5 M601.8,968 C601,974 600.5,979 600.7,984"/><path d="M607.5,968 L607.8,983.5 M608,976 C610,971 613,968 616,967.5 C618.5,967.5 618.5,971 618,974"/><path d="M628,957.5 C627.5,966 627,975 627.5,981 C628,984.5 631,984.8 633.4,983.5 M622,968 L632,967.5"/><path d="M641.5,955 C639,963 637.5,974 637,984.5 M637.5,979 C640,973 644,968.5 647,968 C649.5,968.5 649.5,974 649,979 L648.6,984.8"/></g><g stroke-width="3.1"><path d="M728.7,1016 L728.3,1044 M729,1016.5 C733,1014 738,1014 740.5,1017 C742.5,1021 741,1027 736,1030 L730.5,1031.5 M736,1030 C740,1032 742.5,1036 741.5,1039.5 C740,1043.5 735,1044.5 729,1043.8"/><path d="M760.5,1029 C758,1026 754,1026 751,1029 C747.5,1033 746.5,1039 748.5,1042.5 C751,1045 755,1042 757,1038 C759,1034 760,1031 760.8,1028 M761,1027.5 C760.3,1033 759.8,1039 760,1044"/><path d="M760.5,1029 C758,1026 754,1026 751,1029 C747.5,1033 746.5,1039 748.5,1042.5 C751,1045 755,1042 757,1038 C759,1034 760,1031 760.8,1028 M761,1027.5 C760.3,1033 759.8,1039 760,1044" transform="translate(18.8,0)"/><path d="M760.5,1029 C758,1026 754,1026 751,1029 C747.5,1033 746.5,1039 748.5,1042.5 C751,1045 755,1042 757,1038 C759,1034 760,1031 760.8,1028 M761.5,1017 C760.5,1028 759.8,1039 760,1044" transform="translate(36,0)"/><path d="M802,1036 L811,1033.5 C814,1032 814,1027.5 811,1026 C807.5,1025 803.5,1028 802,1033 C800.5,1038 802,1043 806,1043.5 C809.5,1043.5 812,1042 814,1040"/></g></g></svg>
</body></html>
